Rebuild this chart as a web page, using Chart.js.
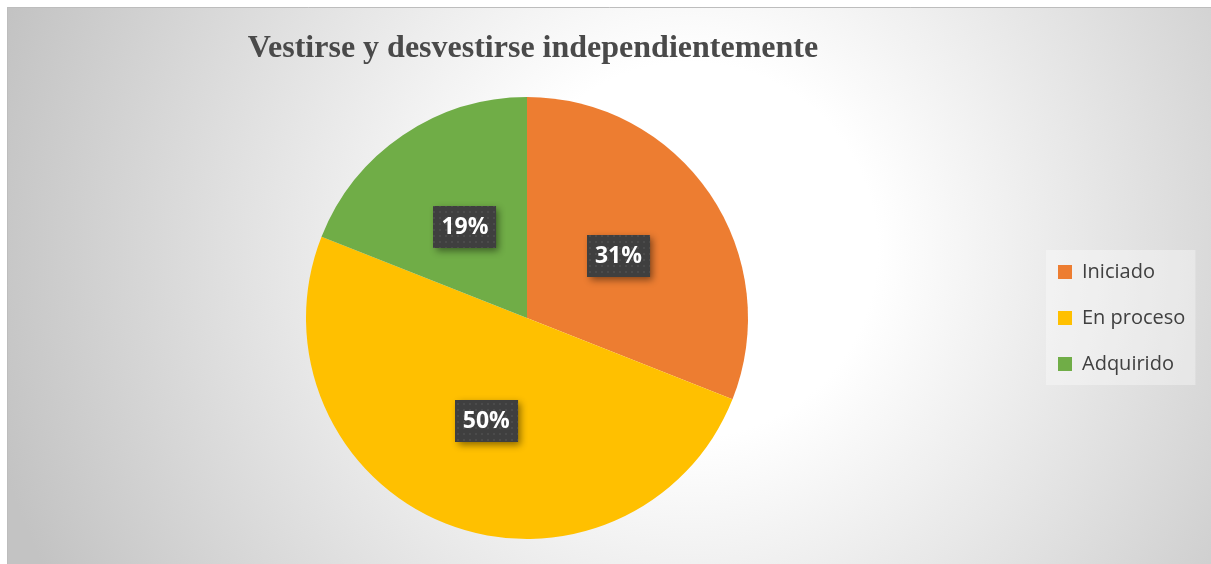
<!DOCTYPE html>
<html lang="es">
<head>
<meta charset="utf-8">
<title>Vestirse y desvestirse independientemente</title>
<script src="https://cdn.jsdelivr.net/npm/chart.js@4.4.1/dist/chart.umd.min.js"></script>
<style>
    html, body { margin: 0; padding: 0; background: #fff; }
    #wrap { width: 1211px; height: 564px; }
</style>
</head>
<body>
<div id="wrap"><canvas id="pie-chart" width="1211" height="564"></canvas></div>
<script>
'use strict';

const chartTitle = 'Vestirse y desvestirse independientemente';
const categories = ['Iniciado', 'En proceso', 'Adquirido'];
const percentages = [31, 50, 19];
const sliceColors = ['#ED7D31', '#FFC000', '#70AD47'];

// gray radial background + thin frame on top/left
const backgroundPlugin = {
    id: 'bg',
    beforeDraw(chart) {
        const ctx = chart.ctx;
        ctx.save();
        ctx.fillStyle = '#ffffff';
        ctx.fillRect(0, 0, chart.width, chart.height);
        const grad = ctx.createRadialGradient(690, 250, 0, 690, 250, 720);
        grad.addColorStop(0, '#ffffff');
        grad.addColorStop(0.26, '#ffffff');
        grad.addColorStop(1, '#c3c3c3');
        ctx.fillStyle = grad;
        ctx.fillRect(7, 7, chart.width - 7, chart.height - 7);
        ctx.strokeStyle = '#bdbdbd';
        ctx.lineWidth = 1;
        ctx.beginPath();
        ctx.moveTo(7.5, chart.height);
        ctx.lineTo(7.5, 7.5);
        ctx.lineTo(chart.width, 7.5);
        ctx.stroke();

        // light panel behind the legend
        const boxes = chart.legend && chart.legend.legendHitBoxes;
        if (boxes && boxes.length) {
            const first = boxes[0];
            const last = boxes[boxes.length - 1];
            const right = Math.max(...boxes.map(b => b.left + b.width));
            ctx.fillStyle = 'rgba(255,255,255,0.35)';
            ctx.fillRect(first.left - 12, first.top - 12, right - first.left + 22, last.top + last.height - first.top + 23);
        }
        ctx.restore();
    }
};

// fixed legend width so the pie sits where it does in the original
const legendWidthPlugin = {
    id: 'legendWidth',
    beforeInit(chart) {
        const fit = chart.legend.fit;
        chart.legend.fit = function () {
            fit.call(this);
            this.width = 173;
        };
    },
    afterLayout(chart) {
        // title is a little right of the pie centre in the original
        chart.titleBlock.left += 12;
    }
};

function dotPattern(ctx) {
    const c = document.createElement('canvas');
    c.width = 6;
    c.height = 6;
    const p = c.getContext('2d');
    p.fillStyle = '#3f3f3f';
    p.fillRect(0, 0, 6, 6);
    p.fillStyle = '#4b4b4b';
    p.fillRect(1, 1, 2, 2);
    return ctx.createPattern(c, 'repeat');
}

// dark percentage boxes in the middle of each slice
const labelPlugin = {
    id: 'sliceLabels',
    afterDatasetsDraw(chart) {
        const ctx = chart.ctx;
        const meta = chart.getDatasetMeta(0);
        const pattern = dotPattern(ctx);
        ctx.save();
        ctx.font = 'bold 23px "Open Sans"';
        meta.data.forEach((arc, i) => {
            const pos = arc.tooltipPosition();
            const text = chart.data.datasets[0].data[i] + '%';
            const w = ctx.measureText(text).width + 16;
            const h = 42;
            const x = Math.round(pos.x - w / 2);
            const y = Math.round(pos.y - h / 2);
            ctx.save();
            ctx.shadowColor = 'rgba(0,0,0,0.45)';
            ctx.shadowBlur = 7;
            ctx.shadowOffsetX = 3;
            ctx.shadowOffsetY = 3;
            ctx.fillStyle = '#404040';
            ctx.fillRect(x, y, w, h);
            ctx.restore();
            ctx.fillStyle = pattern;
            ctx.fillRect(x, y, w, h);
            ctx.fillStyle = '#ffffff';
            ctx.textAlign = 'center';
            ctx.textBaseline = 'middle';
            ctx.fillText(text, pos.x, pos.y + 1);
        });
        ctx.restore();
    }
};

const pieCanvas = document.getElementById('pie-chart');
new Chart(pieCanvas, {
    type: 'pie',
    data: {
        labels: categories,
        datasets: [{
            data: percentages,
            backgroundColor: sliceColors,
            borderWidth: 0
        }]
    },
    options: {
        responsive: false,
        animation: false,
        layout: {
            padding: { top: 7, left: 22, right: 6, bottom: 25 }
        },
        plugins: {
            title: {
                display: true,
                text: chartTitle,
                fullSize: false,
                color: '#4a4a4a',
                font: { family: '"Liberation Serif", "Times New Roman", serif', size: 32, weight: 'bold', lineHeight: 1.2 },
                padding: { top: 23, bottom: 28.6 }
            },
            legend: {
                position: 'right',
                fullSize: false,
                align: 'center',
                labels: {
                    boxWidth: 14,
                    boxHeight: 14,
                    padding: 26,
                    color: '#404040',
                    font: { family: '"Open Sans", sans-serif', size: 20 }
                }
            },
            tooltip: { enabled: false }
        }
    },
    plugins: [backgroundPlugin, legendWidthPlugin, labelPlugin]
});
</script>
</body>
</html>
